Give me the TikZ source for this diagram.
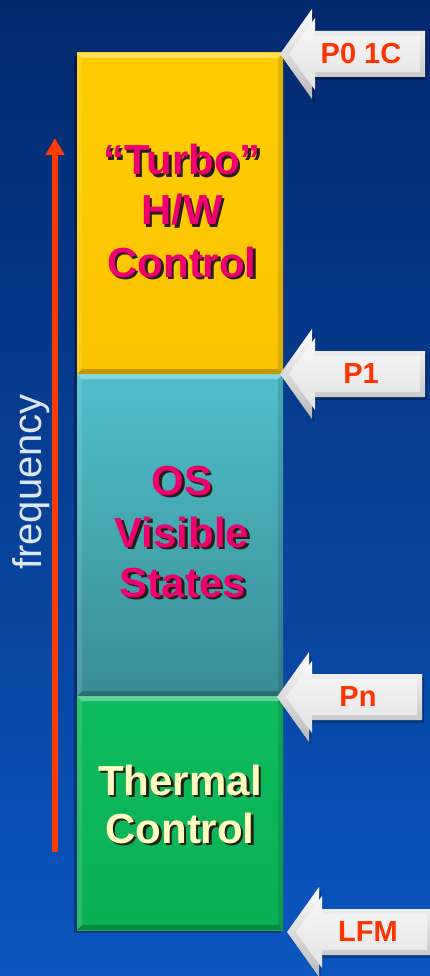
\documentclass[tikz,border=0pt]{standalone}
\usepackage{fontspec}
\setmainfont{Liberation Sans}
\usetikzlibrary{arrows.meta}

\definecolor{bgtop}{RGB}{4,40,110}
\definecolor{bgbot}{RGB}{10,86,190}
\definecolor{turboY}{RGB}{255,204,0}
\definecolor{turboYd}{RGB}{250,196,0}
\definecolor{osC}{RGB}{78,192,202}
\definecolor{osCd}{RGB}{58,140,150}
\definecolor{thG}{RGB}{14,188,92}
\definecolor{thGd}{RGB}{10,176,84}
\definecolor{magT}{RGB}{238,0,110}
\definecolor{creamT}{RGB}{255,255,190}
\definecolor{freqR}{RGB}{255,60,0}
\definecolor{lblR}{RGB}{255,51,0}
\definecolor{freqT}{RGB}{220,230,245}
\definecolor{shadowK}{RGB}{40,30,20}

\tikzset{
  boxnode/.style={rectangle, minimum width=206pt, inner sep=0pt, outer sep=0pt},
  bigtxt/.style={font=\fontsize{42}{50}\selectfont\bfseries, inner sep=0pt, anchor=base},
  arrlbl/.style={font=\fontsize{29}{34}\selectfont\bfseries, text=lblR, inner sep=0pt},
  litebevel/.style={fill=white, opacity=0.35},
  darkbevel/.style={fill=black, opacity=0.22},
}

% text with a drop shadow, inside one node
\newcommand\shadowed[1]{%
  \makebox[0pt][l]{\hspace*{2.5pt}\raisebox{-2.5pt}{\textcolor{shadowK}{#1}}}#1}

% shadowed text line: name, x, y, colour, text
\newcommand\shtext[5]{%
  \node[bigtxt, text=#4] (#1) at (#2,#3) {\shadowed{#5}};
}

% bevels for a box node
\newcommand\bevelbox[1]{%
  \path[litebevel] (#1.north west) -- (#1.north east) -- ++(-5,5) -- ++(-196,0) -- cycle;
  \path[darkbevel] (#1.south west) -- (#1.south east) -- ++(-5,-5) -- ++(-196,0) -- cycle;
  \path[fill=white, opacity=0.12] (#1.north west) -- ++(5,5) |- ([shift={(5,-5)}]#1.south west) -- (#1.south west) -- cycle;
  \path[fill=black, opacity=0.12] (#1.north east) -- ++(-5,5) |- ([shift={(-5,-5)}]#1.south east) -- (#1.south east) -- cycle;
}

% silver arrow: name, tip, label
\newcommand\silverarrow[3]{%
  \coordinate (#1) at (#2);
  \fill[black, opacity=0.25] ([shift={(2,3)}]#1) -- ++(32,-45) -- ++(0,22) -- ++(113,0) -- ++(0,46) -- ++(-113,0) -- ++(0,22) -- cycle;
  \shade[top color=white, bottom color=gray!55] (#1) -- ++(32,-45) -- ++(0,22) -- ++(113,0) -- ++(0,46) -- ++(-113,0) -- ++(0,22) -- cycle;
  \shade[top color=gray!5, bottom color=gray!22] ([shift={(9,0)}]#1) -- ++(26,-36) -- ++(0,18) -- ++(105,0) -- ++(0,36) -- ++(-105,0) -- ++(0,18) -- cycle;
  \node[arrlbl] (#1lbl) at ([xshift=81pt]#1) {#3};
}

\begin{document}
\begin{tikzpicture}[x=1pt, y=-1pt]
  \useasboundingbox (0,0) rectangle (430,976);
  \shade[top color=bgtop, bottom color=bgbot] (0,0) rectangle (430,976);

  % shadow behind the column
  \fill[black, opacity=0.35] (74,56) rectangle (281,933);

  % boxes
  \node[boxnode, top color=turboY, bottom color=turboYd, minimum height=321pt] (turbo) at (180,213.5) {};
  \node[boxnode, top color=osC, bottom color=osCd, minimum height=322pt] (os) at (180,535) {};
  \node[boxnode, top color=thG, bottom color=thGd, minimum height=234pt] (thermal) at (180,813) {};
  \bevelbox{turbo}
  \bevelbox{os}
  \bevelbox{thermal}

  % box texts
  \shtext{t1}{182}{175}{magT}{“Turbo”}
  \shtext{t2}{182}{225}{magT}{H/W}
  \shtext{t3}{182}{277}{magT}{Control}
  \shtext{o1}{182}{495}{magT}{OS}
  \shtext{o2}{182}{547}{magT}{Visible}
  \shtext{o3}{183}{597}{magT}{States}
  \shtext{h1}{180}{795}{creamT}{Thermal}
  \shtext{h2}{180}{843}{creamT}{Control}

  % frequency arrow
  \coordinate (fbot) at (55,852);
  \coordinate (ftop) at (55,138);
  \draw[freqR, line width=6pt, -{Triangle[width=18pt,length=17pt]}] (fbot) -- (ftop);
  \node[rotate=90, font=\fontsize{40}{40}\selectfont, text=freqT, inner sep=0pt] (freq) at (31,482) {frequency};

  % level arrows
  \silverarrow{p0}{280,54}{P0 1C}
  \silverarrow{p1}{280,374}{P1}
  \silverarrow{pn}{277,697}{Pn}
  \silverarrow{lfm}{287,932}{LFM}
\end{tikzpicture}
\end{document}
